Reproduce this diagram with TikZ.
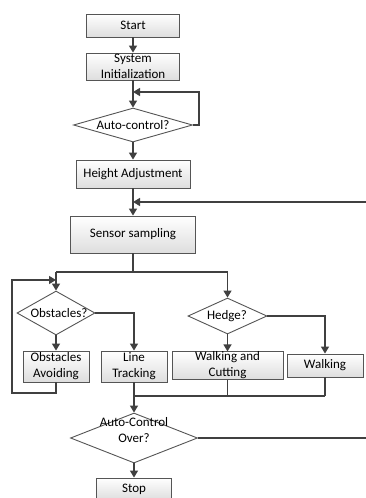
\documentclass[tikz,border=0pt]{standalone}
\usepackage{fontspec}
\setmainfont{Carlito}
\usetikzlibrary{arrows.meta,shapes.geometric}
\definecolor{ln}{HTML}{404040}
\definecolor{bd}{HTML}{555555}
\begin{document}
\begin{tikzpicture}[x=1pt,y=-1pt,
  txt/.style={inner sep=0pt,align=center,font=\fontsize{13}{16}\selectfont},
  box/.style={txt,draw=bd,line width=0.9pt,top color=white,bottom color=black!13},
  dia/.style={diamond,draw=bd,line width=0.9pt,fill=white,inner sep=0pt},
  con/.style={draw=ln,line width=1.4pt},
  arr/.style={con,-{Triangle[width=8pt,length=7pt]}}]
\useasboundingbox (0,0) rectangle (365,498);
\fill[white] (0,0) rectangle (365,498);

% process boxes
\node[box,minimum width=93pt,minimum height=23pt] (start) at (133,25.5) {Start};
\node[box,minimum width=93pt,minimum height=27pt] (init) at (133,66.5) {System\\Initialization};
\node[dia,minimum width=119pt,minimum height=34pt] (d1) at (133,125) {};
\node[txt] (t1) at (133,125) {Auto-control?};
\node[box,minimum width=114pt,minimum height=28pt] (ha) at (133,174) {Height Adjustment};
\node[box,minimum width=125pt,minimum height=37pt] (sens) at (133,234.5) {Sensor sampling};

\node[dia,minimum width=78pt,minimum height=44pt] (d2) at (56,313) {};
\node[txt] (t2) at (59,313) {Obstacles?};
\node[dia,minimum width=79pt,minimum height=36pt] (d3) at (227.5,316) {};
\node[txt] (t3) at (227,316) {Hedge?};

\node[box,minimum width=66pt,minimum height=31pt] (oa) at (56,366.5) {Obstacles\\Avoiding};
\node[box,minimum width=66pt,minimum height=31pt] (lt) at (134,366.5) {Line\\Tracking};
\node[box,minimum width=111pt,minimum height=27pt] (wc) at (227.5,365.5) {Walking and\\Cutting};
\node[box,minimum width=76pt,minimum height=23pt] (wk) at (325,365.5) {Walking};

\node[dia,minimum width=127pt,minimum height=50pt] (d4) at (134,438) {};
\node[txt] (t4) at (134,430) {Auto-Control\\Over?};
\node[box,minimum width=75pt,minimum height=22pt] (stop) at (134,489) {Stop};

% helper coordinates
\coordinate (l1) at (199,92);
\coordinate (j1) at (133,92);
\coordinate (r1) at (367,438);
\coordinate (r2) at (367,202);
\coordinate (j2) at (133,202);
\coordinate (f) at (133,272);
\coordinate (fL) at (56,272);
\coordinate (fR) at (227.5,272);
\coordinate (o1) at (56,393);
\coordinate (o2) at (12,393);
\coordinate (o3) at (12,280);
\coordinate (o4) at (56,280);
\coordinate (m) at (134,396);
\coordinate (mW) at (227.5,396);
\coordinate (mR) at (325,396);

% connectors
\draw[arr] (start) -- (init);
\draw[arr] (init) -- (d1.north);
\draw[arr] (d1.east) -| (l1) -- (j1);
\draw[arr] (d1.south) -- (ha.north);
\draw[arr] (ha) -- (sens);
\draw[arr] (d4.east) -- (r1) -- (r2) -- (j2);
\draw[con] (sens.south) -- (f);
\draw[con] (fL) -- (fR);
\draw[arr] (fL) -- (d2.north);
\draw[arr] (fR) -- (d3.north);
\draw[arr] (d2.east) -| (lt.north);
\draw[arr] (d3.east) -| (wk.north);
\draw[arr] (d2.south) -- (oa.north);
\draw[arr] (d3.south) -- (wc.north);
\draw[arr] (oa.south) -- (o1) -- (o2) -- (o3) -- (o4);
\draw[con] (wc.south) -- (mW);
\draw[con] (wk.south) -- (mR);
\draw[con] (m) -- (mR);
\draw[arr] (lt.south) -- (d4.north);
\draw[arr] (d4.south) -- (stop.north);
\end{tikzpicture}
\end{document}
